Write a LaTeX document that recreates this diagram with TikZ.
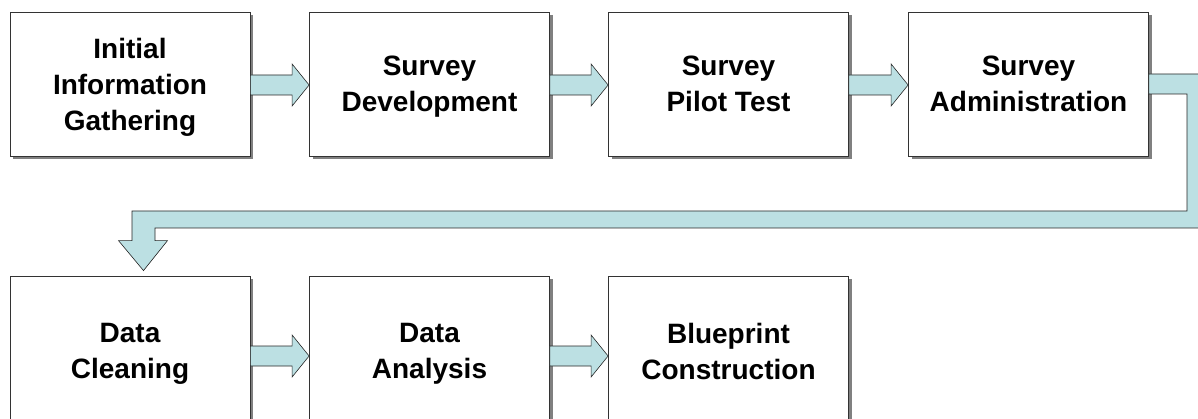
\documentclass[tikz,border=0pt]{standalone}
\usepackage{fontspec}
\setmainfont{Liberation Sans}
\usetikzlibrary{shadows,calc}
\definecolor{flowfill}{RGB}{188,224,227}
\tikzset{
  stage/.style={draw=black!80, fill=white, line width=0.8pt,
    minimum width=240pt, minimum height=144pt, align=center, text depth=0pt,
    font=\bfseries\fontsize{28}{36}\selectfont,
    drop shadow={shadow xshift=3pt, shadow yshift=-3pt, fill=black!50, opacity=1}},
  flow/.style={draw=black!85, fill=flowfill, line width=0.6pt, line join=miter}
}
% block arrow from node #1 to node #2, shifted down by #3
\newcommand{\flowarrow}[3]{%
  \draw[flow] ($(#1.east)+(0,#3-10)$) -- ($(#2.west)+(-17,#3-10)$)
    -- ($(#2.west)+(-17,#3-21)$) -- ($(#2.west)+(0,#3)$)
    -- ($(#2.west)+(-17,#3+21)$) -- ($(#2.west)+(-17,#3+10)$)
    -- ($(#1.east)+(0,#3+10)$) -- cycle;}
\begin{document}
\begin{tikzpicture}[x=1pt, y=-1pt]
    \useasboundingbox (0,0) rectangle (1198,419);
    \clip (0,0) rectangle (1198,419);
    % top row
    \node[stage] (gather) at (130,84) {Initial\\Information\\Gathering};
    \node[stage] (develop) at (429.5,84) {Survey\\Development};
    \node[stage] (pilot) at (728.5,84) {Survey\\Pilot Test};
    \node[stage] (admin) at (1028.5,84) {Survey\\Administration};
    % bottom row
    \node[stage, minimum height=150pt] (clean) at (130,351) {Data\\Cleaning};
    \node[stage, minimum height=150pt] (analyse) at (429.5,351) {Data\\Analysis};
    \node[stage, minimum height=150pt] (build) at (728.5,351) {Blueprint\\Construction};
    \flowarrow{gather}{develop}{1}
    \flowarrow{develop}{pilot}{1}
    \flowarrow{pilot}{admin}{1}
    \flowarrow{clean}{analyse}{5}
    \flowarrow{analyse}{build}{5}
    % return arrow down to the second row
    \coordinate (tip) at ($(clean.north)+(13.5,-5)$);
    \draw[flow] ($(admin.east)+(0,-10)$) -- (1207,74) -- (1207,228)
      -- (155,228) -- ($(tip)+(11.5,-30)$) -- ($(tip)+(24,-30)$) -- (tip)
      -- ($(tip)+(-25,-30)$) -- ($(tip)+(-11.5,-30)$) -- (132,211)
      -- (1187,211) -- (1187,94) -- ($(admin.east)+(0,10)$) -- cycle;
\end{tikzpicture}
\end{document}
